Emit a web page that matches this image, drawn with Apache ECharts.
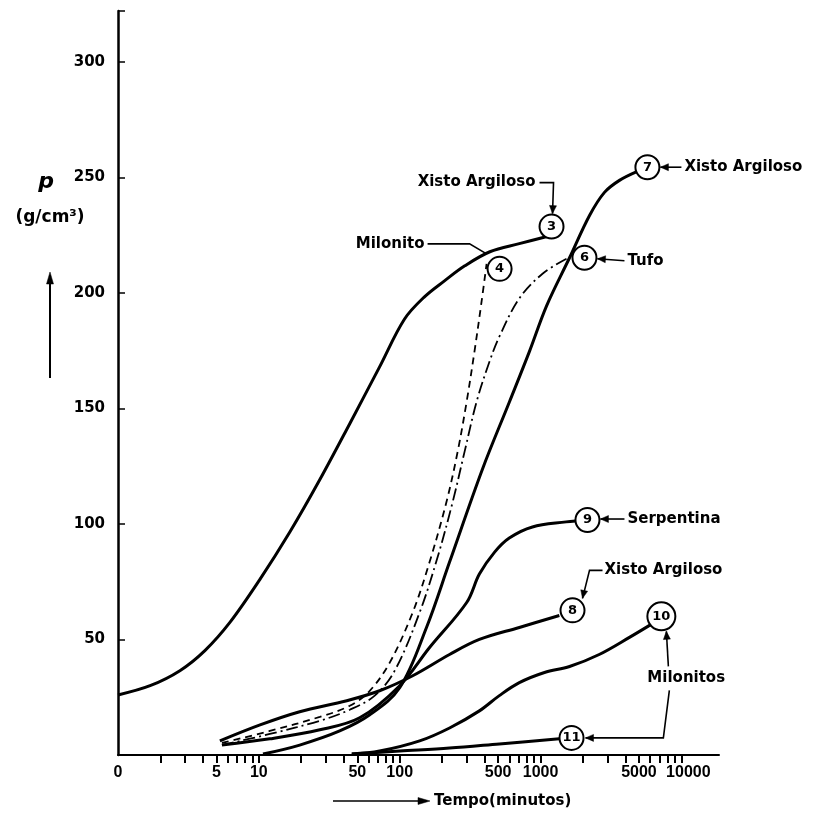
<!DOCTYPE html>
<html><head><meta charset="utf-8">
<script src="https://cdn.jsdelivr.net/npm/echarts@6/dist/echarts.min.js"></script>
<style>html,body{margin:0;padding:0;background:#fff}#c{width:827px;height:824px}</style>
</head><body><div id="c"></div>
<script>
// ---- axis ticks ----
const xLabelValues = [1, 5, 10, 50, 100, 500, 1000, 5000, 10000]; // 1 is drawn as "0" (origin)
const xTickValues = [2,3,4,5,6,7,8,9,10,20,30,40,50,60,70,80,90,100,200,300,400,500,600,700,800,900,1000,2000,3000,4000,5000,6000,7000,8000,9000,10000];
const yLabelValues = [50, 100, 150, 200, 250, 300];

// ---- curves: [tempo (min), p] ----
const curve3 = [[1,26],[1.69,30],[2.75,36.5],[4.14,45.2],[6.23,57.4],[10.1,75.7],[16.6,96.5],[27,119],[44.3,143.5],[72,168],[108,188.6],[150,198.3],[208,205.2],[290,211.7],[437,217.8],[707,221.3],[1130,224.5]];
const curve4 = [[5.47,5.2],[11.97,10.4],[27.1,16.5],[44.2,21.3],[61.3,27.8],[85,40],[123.7,61.7],[163,83.5],[215,109.6],[258,131.3],[299,153],[340,174.8],[382,196.5],[414,212.6]];
const curve6 = [[5.47,4.3],[11.97,9.1],[27.1,14.8],[44.2,19.6],[66.5,25.7],[92.2,36.5],[138.6,61.7],[186,85.7],[238,109.6],[289,131.3],[352,153],[435,170.4],[512,181.3],[710,197.8],[1033,208.3],[1529,214.8]];
const curve7 = [[10.7,0.4],[19.5,4.3],[37.5,10.4],[61.3,17.4],[100,29.1],[155,55.2],[226,83.5],[388,123.9],[603,153],[836,174.8],[1104,194.4],[1607,215.2],[2228,233.5],[2844,243.5],[3633,248.7],[4873,252.6]];
const curve8 = [[5.29,6.1],[10.2,13],[19.5,18.7],[42.1,23.5],[72,27.8],[123.7,34.3],[226,43.5],[368,50],[707,55.2],[1360,60.4]];
const curve9 = [[5.47,4.3],[11.97,7],[27.1,10.9],[52,16.1],[100,30],[163,46.5],[299,66],[368,78.3],[472,87.8],[600,93.9],[876,98.7],[1520,100.9],[1775,101.3]];
const curve10 = [[45.7,0.4],[72,1.7],[138.6,6.1],[226,11.7],[368,19.1],[510,25.7],[707,31.3],[1067,35.7],[1607,38.3],[2610,43.5],[4277,50.9],[6440,57.4]];
const curve11 = [[45.7,0.4],[100,1.7],[226,3],[510,4.8],[1360,7]];

// ---- numbered circle markers (in data units) ----
const markerNames = ['3','4','6','7','8','9','10','11'];
const markerT = [1197, 512, 2051, 5740, 1687, 2154, 7210, 1660];
const markerP = [228.7, 210.4, 215.2, 254.4, 62.6, 101.7, 60, 7.4];

const chart = echarts.init(document.getElementById('c'));
const FONT = '"DejaVu Sans", sans-serif';
const FONT2 = '"Liberation Sans", Arial, sans-serif';
function solid(d){return {type:'line',data:d,showSymbol:false,smooth:0.35,lineStyle:{color:'#000',width:3},silent:true,z:3};}
function dashed(d,dash){return {type:'line',data:d,showSymbol:false,smooth:0.35,lineStyle:{color:'#000',width:1.8,type:dash},silent:true,z:3};}

chart.setOption({
  animation:false,
  backgroundColor:'#fff',
  grid:{left:118,top:11,right:108,bottom:69,containLabel:false},
  xAxis:{type:'log',logBase:10,min:1,max:18500,
    axisLine:{lineStyle:{color:'#000',width:2}},
    axisTick:{show:true,inside:false,length:8,lineStyle:{color:'#000',width:2},customValues:xTickValues},
    axisLabel:{customValues:xLabelValues,hideOverlap:false,color:'#000',fontFamily:FONT2,fontWeight:'bold',fontSize:16,margin:10,
      formatter:function(v){const r=Math.round(v);return r===1?'0':(r===10000?'{w|10000}':String(r));},
      rich:{w:{fontFamily:FONT2,fontWeight:'bold',fontSize:16,color:'#000',padding:[0,0,0,14]}}},
    splitLine:{show:false},minorTick:{show:false}},
  yAxis:{type:'value',min:0,max:322,interval:50,
    axisLine:{show:true,lineStyle:{color:'#000',width:2.5}},
    axisTick:{show:true,inside:true,length:7,lineStyle:{color:'#000',width:1.5}},
    axisLabel:{color:'#000',fontFamily:FONT,fontWeight:'bold',fontSize:15,margin:13,
      formatter:function(v){return (v>0 && v%50===0)?String(v):'';}},
    splitLine:{show:false}},
  series:[
    solid(curve3), dashed(curve4,[7,5]), dashed(curve6,[12,4,2,4]), solid(curve7),
    solid(curve8), solid(curve9), solid(curve10), solid(curve11),
    {type:'scatter',silent:true,z:5,
     data:markerNames.map((n,i)=>({value:[markerT[i],markerP[i]],name:n,symbolSize:n==='10'?28:24})),
     itemStyle:{color:'#fff',borderColor:'#000',borderWidth:2,opacity:1},
     label:{show:true,position:'inside',formatter:p=>p.name,color:'#000',fontFamily:FONT,fontWeight:'bold',fontSize:13}}
  ]
});

// ---- annotations: text, leaders, arrows ----
const g = [];
function px(i){return chart.convertToPixel({xAxisIndex:0,yAxisIndex:0},[markerT[i],markerP[i]]);}
function txt(s,x,y,align,size,extra){g.push(Object.assign({type:'text',x:x,y:y,silent:true,style:{text:s,fill:'#000',font:'bold '+(size||15)+'px '+FONT,align:align||'left',verticalAlign:'middle'}},extra||{}));}
function pl(pts,w){g.push({type:'polyline',silent:true,shape:{points:pts},style:{stroke:'#000',lineWidth:w||1.6,fill:null}});}
function head(x1,y1,x2,y2,L,W){const a=Math.atan2(y2-y1,x2-x1);L=L||8;W=W||3.5;const bx=x2-L*Math.cos(a),by=y2-L*Math.sin(a);const nx=-Math.sin(a)*W,ny=Math.cos(a)*W;
  g.push({type:'polygon',silent:true,shape:{points:[[x2,y2],[bx+nx,by+ny],[bx-nx,by-ny]]},style:{fill:'#000',stroke:'#000',lineWidth:0.5}});}

const c3=px(0),c4=px(1),c6=px(2),c7=px(3),c8=px(4),c9=px(5),c10=px(6),c11=px(7);
// 3
txt('Xisto Argiloso',c3[0]-16,c3[1]-44,'right');
pl([[c3[0]-12,c3[1]-44],[c3[0]+2,c3[1]-44],[c3[0]+1,c3[1]-13]]); head(c3[0]+2,c3[1]-30,c3[0]+1,c3[1]-13);
// 4
txt('Milonito',c4[0]-75,c4[1]-25,'right');
pl([[c4[0]-72,c4[1]-25],[c4[0]-30,c4[1]-25],[c4[0]-13,c4[1]-15]]);
// 6
txt('Tufo',c6[0]+43,c6[1]+3,'left');
pl([[c6[0]+40,c6[1]+3],[c6[0]+13,c6[1]+1]]); head(c6[0]+30,c6[1]+2,c6[0]+13,c6[1]+1);
// 7
txt('Xisto Argiloso',c7[0]+37,c7[1],'left');
pl([[c7[0]+34,c7[1]],[c7[0]+13,c7[1]]]); head(c7[0]+26,c7[1],c7[0]+13,c7[1]);
// 9
txt('Serpentina',c9[0]+40,c9[1]-1,'left');
pl([[c9[0]+37,c9[1]-1],[c9[0]+13,c9[1]-1]]); head(c9[0]+26,c9[1]-1,c9[0]+13,c9[1]-1);
// 8
txt('Xisto Argiloso',c8[0]+32,c8[1]-40,'left');
pl([[c8[0]+30,c8[1]-40],[c8[0]+17,c8[1]-40],[c8[0]+10,c8[1]-12]]); head(c8[0]+13,c8[1]-26,c8[0]+10,c8[1]-12);
// 10 / 11 Milonitos
txt('Milonitos',c10[0]-14,c10[1]+62,'left');
pl([[c10[0]+7,c10[1]+50],[c10[0]+5,c10[1]+15]]); head(c10[0]+6,c10[1]+30,c10[0]+5,c10[1]+15);
pl([[c10[0]+8,c10[1]+74],[c10[0]+2,c11[1]],[c11[0]+14,c11[1]]]); head(c11[0]+28,c11[1],c11[0]+14,c11[1]);

// axis names
g.push({type:'text',x:46,y:182,silent:true,style:{text:'p',fill:'#000',font:'italic bold 22px '+FONT,align:'center',verticalAlign:'middle'}});
txt('(g/cm³)',50,218,'center',17);
pl([[50,378],[50,280]],2); head(50,300,50,272,12,3.5);
txt('Tempo(minutos)',434,801,'left',15);
pl([[333,801],[426,801]],1.6); head(410,801,430,801,12,3.5);

chart.setOption({graphic:{elements:g}});
</script></body></html>
